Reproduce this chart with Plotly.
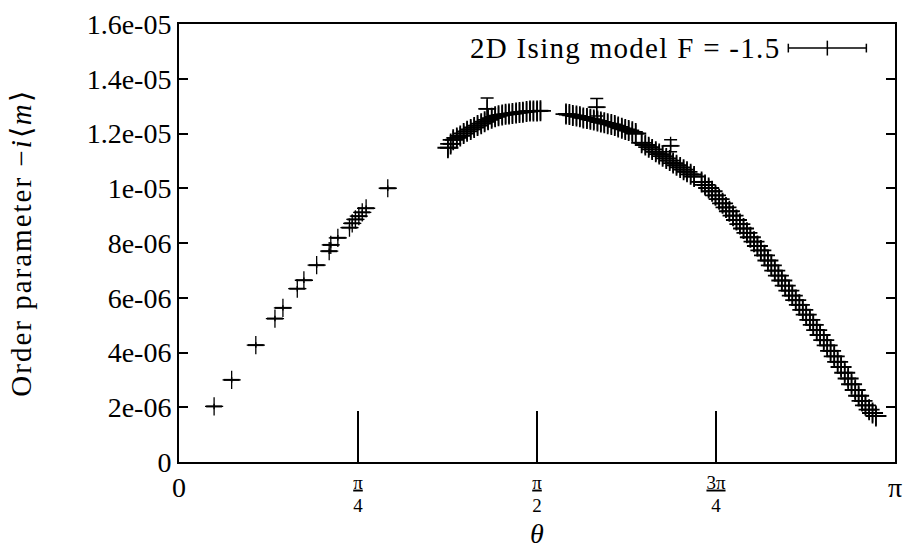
import plotly.graph_objects as go
import math

# ---------------- data ----------------
theta_left = [0.154, 0.231, 0.337, 0.421, 0.456, 0.519, 0.548, 0.604, 0.659,
              0.666, 0.697, 0.748, 0.760, 0.774, 0.789, 0.804, 0.821, 0.916]
m_left = [2.03e-6, 3.00e-6, 4.27e-6, 5.24e-6, 5.63e-6, 6.33e-6, 6.64e-6, 7.19e-6, 7.70e-6,
          7.93e-6, 8.19e-6, 8.56e-6, 8.72e-6, 8.86e-6, 8.98e-6, 9.12e-6, 9.27e-6, 1.00e-5]

theta_rise = [1.180, 1.192, 1.203, 1.219, 1.234, 1.249, 1.264, 1.280, 1.295,
              1.310, 1.326, 1.341, 1.356, 1.372, 1.387, 1.402, 1.418, 1.433, 1.448, 1.463,
              1.479, 1.494, 1.509, 1.525, 1.540, 1.555, 1.571, 1.586]
m_rise = [11.48e-6, 11.62e-6, 11.77e-6, 11.84e-6, 11.91e-6, 12.00e-6,
          12.08e-6, 12.15e-6, 12.22e-6, 12.29e-6, 12.36e-6, 12.43e-6, 12.50e-6, 12.56e-6,
          12.61e-6, 12.65e-6, 12.68e-6, 12.70e-6, 12.71e-6, 12.73e-6, 12.75e-6, 12.77e-6,
          12.78e-6, 12.80e-6, 12.82e-6, 12.82e-6, 12.82e-6, 12.83e-6]

theta_fall1 = [1.698, 1.713, 1.728, 1.744, 1.759, 1.774, 1.790, 1.805, 1.820,
               1.836, 1.851, 1.866, 1.881, 1.897, 1.912, 1.927, 1.943, 1.958, 1.973, 1.989, 2.004]
m_fall1 = [12.71e-6, 12.69e-6, 12.66e-6, 12.64e-6, 12.61e-6, 12.57e-6,
           12.55e-6, 12.52e-6, 12.49e-6, 12.46e-6, 12.42e-6, 12.39e-6, 12.36e-6, 12.33e-6,
           12.29e-6, 12.24e-6, 12.19e-6, 12.15e-6, 12.11e-6, 12.06e-6, 12.00e-6]

theta_fall2 = [2.030, 2.046, 2.061, 2.076, 2.092, 2.107, 2.122, 2.138, 2.153, 2.168, 2.183,
               2.199, 2.214, 2.229, 2.245, 2.260]
m_fall2 = [11.66e-6, 11.58e-6, 11.50e-6, 11.42e-6, 11.33e-6, 11.25e-6, 11.17e-6, 11.09e-6,
           11.01e-6, 10.92e-6, 10.84e-6, 10.76e-6, 10.68e-6, 10.60e-6, 10.51e-6, 10.43e-6]

theta_fall3 = [2.293, 2.308, 2.324, 2.339, 2.354, 2.370, 2.385, 2.400, 2.415, 2.431, 2.446,
               2.461, 2.477, 2.492, 2.507, 2.523, 2.538, 2.553, 2.569, 2.584, 2.599, 2.614,
               2.630, 2.645, 2.660, 2.676, 2.691, 2.706, 2.722, 2.737, 2.752, 2.768, 2.783,
               2.798, 2.813, 2.829, 2.844, 2.859, 2.875, 2.890, 2.905, 2.921, 2.936, 2.951,
               2.967, 2.982, 2.997, 3.012, 3.028, 3.043, 3.058]
m_fall3 = [10.23e-6, 10.12e-6, 10.01e-6, 9.89e-6, 9.74e-6, 9.60e-6, 9.45e-6, 9.30e-6, 9.16e-6,
           9.00e-6, 8.84e-6, 8.69e-6, 8.53e-6, 8.37e-6, 8.21e-6, 8.05e-6, 7.89e-6, 7.73e-6,
           7.55e-6, 7.36e-6, 7.18e-6, 6.99e-6, 6.81e-6, 6.63e-6, 6.44e-6, 6.26e-6, 6.08e-6,
           5.91e-6, 5.74e-6, 5.56e-6, 5.38e-6, 5.19e-6, 5.01e-6, 4.82e-6, 4.64e-6, 4.45e-6,
           4.26e-6, 4.06e-6, 3.86e-6, 3.66e-6, 3.47e-6, 3.26e-6, 3.05e-6, 2.84e-6, 2.63e-6,
           2.42e-6, 2.23e-6, 2.07e-6, 1.91e-6, 1.79e-6, 1.68e-6]

# a few points with large error bars
theta_out = [1.352, 1.833, 2.157]
m_out = [12.90e-6, 12.96e-6, 11.55e-6]
dm_out = [0.40e-6, 0.32e-6, 0.22e-6]

# error estimates per group
dtheta_sparse = 0.035
dm_sparse = 0.10e-6
dtheta_dense = 0.035
dm_dense = 0.33e-6

# x tick labels: fractions as tick text, the two plain ends as separate texts
x_tickvals = [0, math.pi / 4, math.pi / 2, 3 * math.pi / 4, math.pi]
FR = "<span style='font-size:19px'>"
x_ticktext = ["",
              FR + "<span style='text-decoration:underline'>π</span></span><br>" + FR + "4</span>",
              FR + "<span style='text-decoration:underline'>π</span></span><br>" + FR + "2</span>",
              FR + "<span style='text-decoration:underline'>3π</span></span><br>" + FR + "4</span>",
              ""]
x_end_vals = [0, math.pi]
x_end_text = ["0", "π"]
y_tickvals = [0, 2e-6, 4e-6, 6e-6, 8e-6, 1e-5, 1.2e-5, 1.4e-5, 1.6e-5]
y_ticktext = ["0", "2e-06", "4e-06", "6e-06", "8e-06", "1e-05", "1.2e-05", "1.4e-05", "1.6e-05"]

legend_label = "2D Ising model F = -1.5"

FONT = "Liberation Serif"
BLACK = "black"

fig = go.Figure()

def add_group(xs, ys, dx, dy, size=13, lw=1.3):
    fig.add_trace(go.Scatter(
        x=xs, y=ys, mode="markers", showlegend=False,
        marker=dict(symbol="cross-thin", size=size, color=BLACK,
                    line=dict(width=lw, color=BLACK)),
        error_x=dict(type="constant", value=dx, color=BLACK, thickness=2, width=0),
        error_y=dict(type="constant", value=dy, color=BLACK, thickness=1.4, width=0),
    ))

add_group(theta_left, m_left, dtheta_sparse, dm_sparse)
for xs, ys in [(theta_rise, m_rise), (theta_fall1, m_fall1),
               (theta_fall2, m_fall2), (theta_fall3, m_fall3)]:
    add_group(xs, ys, dtheta_dense, dm_dense, size=15, lw=1.8)

fig.add_trace(go.Scatter(
    x=theta_out, y=m_out, mode="markers", showlegend=False,
    marker=dict(symbol="cross-thin", size=13, color=BLACK, line=dict(width=1.3, color=BLACK)),
    error_x=dict(type="constant", value=dtheta_sparse, color=BLACK, thickness=1.8, width=0),
    error_y=dict(type="data", array=dm_out, color=BLACK, thickness=1.5, width=6.5),
))

# plain end labels of the x axis ("0" and "π")
for xv, txt in zip(x_end_vals, x_end_text):
    fig.add_annotation(x=xv, y=-0.058, xref="x", yref="paper", text=txt, showarrow=False,
                       xanchor="center", yanchor="middle",
                       font=dict(family=FONT, size=28, color=BLACK))

# legend (text + errorbar sample), placed in plot-area fractions
leg_y = 0.945
fig.add_annotation(x=0.842, y=leg_y, xref="paper", yref="paper",
                   text="<span style='letter-spacing:1.3px'>" + legend_label + "</span>",
                   showarrow=False, xanchor="right", yanchor="middle",
                   font=dict(family=FONT, size=29, color=BLACK))
sx0, sx1 = 0.851, 0.960
sxm = (sx0 + sx1) / 2
cap_h = 0.010
plus_h = 0.017
for shp in [dict(x0=sx0, x1=sx1, y0=leg_y, y1=leg_y),
            dict(x0=sx0, x1=sx0, y0=leg_y - cap_h, y1=leg_y + cap_h),
            dict(x0=sx1, x1=sx1, y0=leg_y - cap_h, y1=leg_y + cap_h),
            dict(x0=sxm, x1=sxm, y0=leg_y - plus_h, y1=leg_y + plus_h)]:
    fig.add_shape(type="line", xref="paper", yref="paper",
                  line=dict(color=BLACK, width=1.5), **shp)

fig.update_layout(
    width=906, height=553,
    margin=dict(l=179, r=9, t=16, b=80),
    paper_bgcolor="white", plot_bgcolor="white",
    font=dict(family=FONT, size=28, color=BLACK),
    xaxis=dict(range=[0, math.pi], tickmode="array", tickvals=x_tickvals, ticktext=x_ticktext,
               ticks="inside", ticklen=51, tickwidth=2, tickcolor=BLACK,
               showline=True, linecolor=BLACK, linewidth=2, mirror=True,
               showgrid=False, zeroline=False, ticklabelstandoff=3,
               tickfont=dict(family=FONT, size=18, color=BLACK),
               title=dict(text="<i>θ</i>", font=dict(family=FONT, size=28), standoff=8)),
    yaxis=dict(range=[0, 1.6e-5], tickmode="array", tickvals=y_tickvals, ticktext=y_ticktext,
               ticks="inside", ticklen=9, tickwidth=2, tickcolor=BLACK,
               showline=True, linecolor=BLACK, linewidth=2, mirror="ticks",
               showgrid=False, zeroline=False,
               tickfont=dict(family=FONT, size=28, color=BLACK),
               title=dict(text="<span style='letter-spacing:2px'>Order parameter −<i>i</i>⟨<i>m</i>⟩</span>",
                          font=dict(family=FONT, size=29), standoff=46)),
)

fig.write_html("out.html")
